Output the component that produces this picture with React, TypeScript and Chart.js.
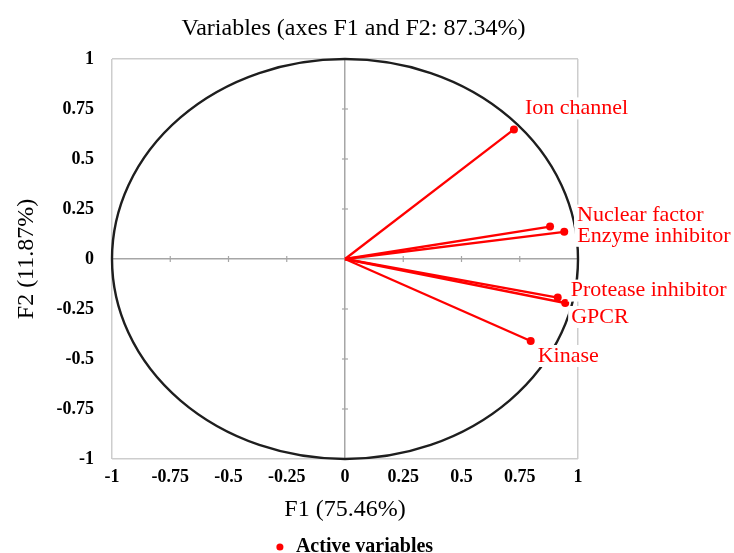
import React, { useEffect, useRef } from "react";
import { Chart, registerables } from "chart.js";

Chart.register(...registerables);

const chartTitle = "Variables (axes F1 and F2: 87.34%)";
const xAxisTitle = "F1 (75.46%)";
const yAxisTitle = "F2 (11.87%)";
const legendLabel = "Active variables";

const variableNames = [
  "Ion channel",
  "Nuclear factor",
  "Enzyme inhibitor",
  "Protease inhibitor",
  "GPCR",
  "Kinase",
];
const f1Values = [0.725, 0.88, 0.941, 0.913, 0.945, 0.797];
const f2Values = [0.648, 0.162, 0.136, -0.193, -0.22, -0.41];

const axisMin = -1;
const axisMax = 1;
const axisStep = 0.25;

// label placement (pixel offsets from each point: left edge, vertical middle)
const labelDx = [11, 27, 13, 13, 6, 7];
const labelDy = [-21, -11, 4, -7, 14, 15];

const RED = "rgb(255,0,0)";
const FONT = "'Liberation Serif', 'Times New Roman', serif";

const fmt = (v: number) => {
  const r = Math.round(v * 100) / 100;
  return String(r);
};

const circlePlugin = {
  id: "corCircle",
  beforeDatasetsDraw(chart: any) {
    const { ctx, scales } = chart;
    const xs = scales.x;
    const ys = scales.y;
    const cx = xs.getPixelForValue(0);
    const cy = ys.getPixelForValue(0);
    const rx = xs.getPixelForValue(1) - cx;
    const ry = cy - ys.getPixelForValue(1);
    ctx.save();
    // small tick marks on the zero axes
    ctx.strokeStyle = "#a6a6a6";
    ctx.lineWidth = 1.2;
    for (let v = axisMin; v <= axisMax + 1e-9; v += axisStep) {
      if (Math.abs(v) < 1e-9 || Math.abs(Math.abs(v) - 1) < 1e-9) continue;
      const py = ys.getPixelForValue(v);
      ctx.beginPath();
      ctx.moveTo(cx - 3, py);
      ctx.lineTo(cx + 3, py);
      ctx.stroke();
      const px = xs.getPixelForValue(v);
      ctx.beginPath();
      ctx.moveTo(px, cy - 3);
      ctx.lineTo(px, cy + 3);
      ctx.stroke();
    }
    ctx.strokeStyle = "#1e1e1e";
    ctx.lineWidth = 2.4;
    ctx.beginPath();
    ctx.ellipse(cx, cy, rx, ry, 0, 0, Math.PI * 2);
    ctx.stroke();
    ctx.restore();
  },
};

const labelPlugin = {
  id: "varLabels",
  afterDatasetsDraw(chart: any) {
    const { ctx, scales } = chart;
    ctx.save();
    ctx.font = `22px ${FONT}`;
    ctx.textBaseline = "middle";
    ctx.textAlign = "left";
    variableNames.forEach((name, i) => {
      const px = scales.x.getPixelForValue(f1Values[i]) + labelDx[i];
      const py = scales.y.getPixelForValue(f2Values[i]) + labelDy[i];
      const w = ctx.measureText(name).width;
      ctx.fillStyle = "#ffffff";
      ctx.fillRect(px - 3, py - 11, w + 6, 22);
    });
    variableNames.forEach((name, i) => {
      const px = scales.x.getPixelForValue(f1Values[i]) + labelDx[i];
      const py = scales.y.getPixelForValue(f2Values[i]) + labelDy[i];
      ctx.fillStyle = RED;
      ctx.fillText(name, px, py);
    });
    ctx.restore();
  },
};

const gridColor = (ctx: any) => {
  const v = ctx.tick ? ctx.tick.value : null;
  if (v === 0) return "#a6a6a6";
  if (v === -1 || v === 1) return "#cdcdcd";
  return "rgba(0,0,0,0)";
};

export default function App() {
  const ref = useRef<HTMLCanvasElement | null>(null);

  useEffect(() => {
    if (!ref.current) return;
    const points = variableNames.map((_, i) => ({ x: f1Values[i], y: f2Values[i] }));
    const lineSets = variableNames.map((name, i) => ({
      type: "line" as const,
      label: name,
      data: [
        { x: 0, y: 0 },
        { x: f1Values[i], y: f2Values[i] },
      ],
      borderColor: RED,
      borderWidth: 2.3,
      pointRadius: 0,
      showLine: true,
      fill: false,
    }));

    const chart = new Chart(ref.current, {
      type: "scatter",
      data: {
        datasets: [
          {
            label: legendLabel,
            data: points,
            backgroundColor: RED,
            borderColor: RED,
            borderWidth: 0,
            pointRadius: 4,
            pointStyle: "circle",
          } as any,
          ...lineSets,
        ],
      },
      options: {
        responsive: false,
        animation: false,
        events: [],
        layout: { padding: { left: 0, right: 27, top: 0, bottom: -14 } },
        plugins: {
          tooltip: { enabled: false },
          title: {
            display: true,
            text: chartTitle,
            color: "#000",
            font: { family: FONT, size: 24, weight: "normal" },
            padding: { top: 14.6, bottom: 15.6 },
          },
          legend: {
            display: true,
            position: "bottom",
            labels: {
              filter: (item: any) => item.datasetIndex === 0,
              usePointStyle: true,
              boxWidth: 12,
              boxHeight: 5,
              padding: 0,
              color: "#000",
              font: { family: FONT, size: 20, weight: "bold" },
            },
          },
        },
        scales: {
          x: {
            type: "linear",
            position: "bottom",
            min: axisMin,
            max: axisMax,
            afterFit: (s: any) => {
              s.height = 78;
            },
            ticks: {
              stepSize: axisStep,
              padding: 8,
              color: "#000",
              font: { family: FONT, size: 18, weight: "bold" },
              callback: (v: any) => fmt(Number(v)),
            },
            grid: { color: gridColor, lineWidth: 1.5, drawTicks: false },
            border: { display: false },
            title: {
              display: true,
              text: xAxisTitle,
              color: "#000",
              font: { family: FONT, size: 24, weight: "normal" },
              padding: { top: 0, bottom: 12.6 },
            },
          },
          y: {
            type: "linear",
            position: "left",
            min: axisMin,
            max: axisMax,
            afterFit: (s: any) => {
              s.width = 112;
            },
            ticks: {
              stepSize: axisStep,
              padding: 18,
              color: "#000",
              font: { family: FONT, size: 18, weight: "bold" },
              callback: (v: any) => fmt(Number(v)),
            },
            grid: { color: gridColor, lineWidth: 1.5, drawTicks: false },
            border: { display: false },
            title: {
              display: true,
              text: yAxisTitle,
              color: "#000",
              font: { family: FONT, size: 24, weight: "normal" },
              padding: { top: 12.6, bottom: 0 },
            },
          },
          yRight: {
            type: "linear",
            position: "right",
            display: true,
            min: axisMin,
            max: axisMax,
            afterFit: (s: any) => {
              s.width = 129;
            },
            ticks: { display: false },
            grid: { display: false, drawTicks: false },
            border: { display: false },
            title: { display: false },
          },
        },
      } as any,
      plugins: [circlePlugin, labelPlugin],
    });
    return () => chart.destroy();
  }, []);

  return (
    <div style={{ position: "fixed", left: 0, top: 0, width: 734, height: 553, background: "#fff" }}>
      <canvas ref={ref} width={734} height={553} />
    </div>
  );
}
